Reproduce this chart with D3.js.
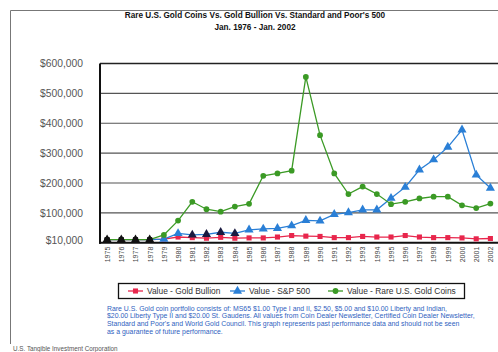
<!DOCTYPE html>
<html><head><meta charset="utf-8">
<script src="https://cdn.jsdelivr.net/npm/d3@7"></script>
<style>body{margin:0;background:#fff}svg{display:block;font-family:"Liberation Sans",Arial,sans-serif}</style>
</head><body>
<svg id="c" width="498" height="352"></svg>
<script>
const years = ["1975","1976","1977","1978","1979","1980","1981","1982","1983","1984","1985","1986","1987","1988","1989","1990","1991","1992","1993","1994","1995","1996","1997","1998","1999","2000","2001","2002"];
const goldBullion = [10000,10000,10000,10000,12000,19000,17000,15000,18000,15000,16000,16000,19000,24000,22000,21000,17000,17000,21000,19000,19000,24000,19000,17000,17000,16000,13000,14000];
const sp500 = [10000,10000,10000,10000,12000,31000,26000,28000,35000,31000,43000,46000,48000,57000,75000,73000,95000,101000,110000,110000,149000,186000,244000,278000,320000,378000,227000,183000];
const rareCoins = [10000,10000,10000,10000,26000,74000,137000,112000,104000,121000,130000,224000,232000,241000,555000,360000,232000,163000,188000,163000,129000,137000,148000,154000,154000,125000,116000,131000];
const yTicks = [10000,100000,200000,300000,400000,500000,600000];
const yTickLabels = ["$10,000","$100,000","$200,000","$300,000","$400,000","$500,000","$600,000"];
const seriesNames = ["Value - Gold Bullion","Value - S&P 500","Value - Rare U.S. Gold Coins"];
const titleLines = ["Rare U.S. Gold Coins Vs. Gold Bullion Vs. Standard and Poor's 500","Jan. 1976 - Jan. 2002"];
const noteLines = [
 "Rare U.S. Gold coin portfolio consists of: MS65 $1.00 Type I and II, $2.50, $5.00 and $10.00 Liberty and Indian,",
 "$20.00 Liberty Type II and $20.00 St. Gaudens. All values from Coin Dealer Newsletter, Certified Coin Dealer Newsletter,",
 "Standard and Poor's and World Gold Council. This graph represents past performance data and should not be seen",
 "as a guarantee of future performance."];
const credit = "U.S. Tangible Investment Corporation";

const svg = d3.select("#c");
const L = 100, R = 497.5, T = 63.5, B = 242.7;
const x = d3.scalePoint().domain(years).range([L, R]).padding(0.5);
const y = d3.scaleLinear().domain([0, 600000]).range([B, T]);

// outer frame
svg.append("path").attr("d", "M10.5,344 L10.5,10.5 L520,10.5").attr("fill","none").attr("stroke","#777").attr("stroke-width",1);

// title
svg.selectAll(".title").data(titleLines).join("text")
  .attr("x", 255).attr("y", (d,i)=>18 + i*11.5).attr("text-anchor","middle")
  .attr("font-size", 8.2).attr("font-weight","bold").attr("fill","#111").text(d=>d);

// gridlines
svg.append("g").selectAll("line").data(yTicks.filter(v=>v>=100000)).join("line")
  .attr("x1", L).attr("x2", 498).attr("y1", d=>y(d)).attr("y2", d=>y(d))
  .attr("stroke", d=> d===600000 ? "#222" : "#555").attr("stroke-width", d=> d===600000 ? 1.6 : 1.1);

// y axis labels
const yAxis = d3.axisLeft(y).tickValues(yTicks).tickFormat((d,i)=>yTickLabels[i]).tickSize(0).tickPadding(17);
const gy = svg.append("g").attr("transform",`translate(${L},0)`).call(yAxis);
gy.select(".domain").remove();
gy.selectAll("text").attr("font-size", 10.3).attr("fill","#555").attr("font-family","Liberation Sans, Arial, sans-serif");

// x axis
const xAxis = d3.axisBottom(x).tickSize(0).tickPadding(4);
const gx = svg.append("g").attr("transform",`translate(0,${B})`).call(xAxis);
gx.select(".domain").remove();
gx.selectAll("text").attr("font-size", 7).attr("fill","#444").attr("font-family","Liberation Sans, Arial, sans-serif")
  .attr("transform","rotate(-90)").attr("text-anchor","end").attr("dy","0.33em").attr("x",-4).attr("y",0);

// axis lines
svg.append("line").attr("x1",L).attr("x2",L).attr("y1",T).attr("y2",B+1).attr("stroke","#111").attr("stroke-width",2);
svg.append("line").attr("x1",L-1).attr("x2",498).attr("y1",B).attr("y2",B).attr("stroke","#111").attr("stroke-width",2);

const series = [
  {name: seriesNames[0], values: goldBullion, color:"#e8264c", shape:"square"},
  {name: seriesNames[1], values: sp500, color:"#2a7fd6", shape:"triangle"},
  {name: seriesNames[2], values: rareCoins, color:"#3b9a25", shape:"circle"}
];
const line = d3.line().x((d,i)=>x(years[i])).y(d=>y(d));
const sym = {square: d3.symbol().type(d3.symbolSquare).size(26),
             triangle: d3.symbol().type(d3.symbolTriangle).size(36),
             circle: d3.symbol().type(d3.symbolCircle).size(26)};

series.forEach(s=>{
  svg.append("path").datum(s.values).attr("d", line).attr("fill","none").attr("stroke", s.color).attr("stroke-width",1.3);
});
series.forEach((s,si)=>{
  svg.append("g").selectAll("path").data(s.values).join("path")
    .attr("transform",(d,i)=>`translate(${x(years[i])},${y(d)})`)
    .attr("d", sym[s.shape]())
    .attr("fill",(d,i)=>{
      // early overlapping markers render dark in the original
      if (i < 4) return "#111";
      if (si===1 && i>=6 && i<=9) return "#1a1a40";
      return s.color;
    });
});

// legend
const lg = svg.append("g");
lg.append("rect").attr("x",118.5).attr("y",283.5).attr("width",346).attr("height",15).attr("fill","#fff").attr("stroke","#111").attr("stroke-width",1.3);
const legX = [128, 230, 328];
series.forEach((s,i)=>{
  const g = lg.append("g").attr("transform",`translate(${legX[i]},291)`);
  g.append("line").attr("x1",0).attr("x2",15).attr("stroke",s.color).attr("stroke-width",1.3);
  g.append("path").attr("transform","translate(7.5,0)").attr("d",sym[s.shape]()).attr("fill",s.color);
  g.append("text").attr("x",19).attr("y",0).attr("dy","0.35em").attr("font-size",8.4).attr("fill","#333").text(s.name);
});

// footnote
svg.selectAll(".note").data(noteLines).join("text")
  .attr("x",107).attr("y",(d,i)=>310.5 + i*7.7).attr("font-size",6.9).attr("fill","#2f62c0").text(d=>d);

svg.append("text").attr("x",13).attr("y",350.5).attr("font-size",6.3).attr("fill","#555").text(credit);
</script>
</body></html>
